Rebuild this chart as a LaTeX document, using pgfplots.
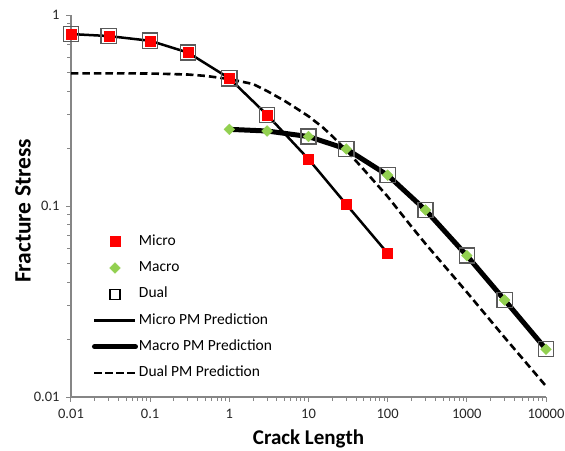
\documentclass[border=0pt]{standalone}
\usepackage{pgfplots}
\pgfplotsset{compat=1.18}
\usepackage{fontspec}
\setmainfont{Carlito}
\definecolor{mred}{HTML}{FF0000}
\definecolor{mgreen}{HTML}{92D050}
\definecolor{axgray}{HTML}{868686}
\definecolor{boxgray}{HTML}{5A5A5A}

\begin{document}
\begin{tikzpicture}
\begin{loglogaxis}[
  scale only axis, width=475bp, height=382bp,
  xmin=0.01, xmax=10000, ymin=0.01, ymax=1,
  axis x line*=bottom, axis y line*=left,
  axis line style={axgray, line width=1.3bp, -},
  tick style={axgray, line width=1bp},
  tick align=outside,
  major tick length=5bp, minor tick length=4bp,
  xtick={0.01,0.1,1,10,100,1000,10000},
  xticklabels={0.01,0.1,1,10,100,1000,10000},
  minor xtick={0.02,0.03,0.04,0.05,0.06,0.07,0.08,0.09,
    0.2,0.3,0.4,0.5,0.6,0.7,0.8,0.9,
    2,3,4,5,6,7,8,9,
    20,30,40,50,60,70,80,90,
    200,300,400,500,600,700,800,900,
    2000,3000,4000,5000,6000,7000,8000,9000},
  ytick={0.01,0.1,1},
  yticklabels={0.01,0.1,1},
  minor ytick={0.02,0.03,0.04,0.05,0.06,0.07,0.08,0.09,
    0.2,0.3,0.4,0.5,0.6,0.7,0.8,0.9},
  ticklabel style={font=\fontsize{14.5bp}{17bp}\selectfont, text=black!85},
  xticklabel style={yshift=-4bp},
  yticklabel style={xshift=-3bp},
  xlabel={Crack Length}, ylabel={Fracture Stress},
  xlabel style={font=\fontsize{21bp}{25bp}\selectfont\bfseries, at={(axis description cs:0.5,-0.125)}, anchor=base},
  ylabel style={font=\fontsize{23.5bp}{28bp}\selectfont\bfseries, at={(axis description cs:-0.101,0.487)}, anchor=center},
  legend cell align=left,
  legend image code/.code={%
    \path[draw=none, fill=none] (0bp,-1bp) rectangle (41bp,1bp);
    \draw[mark repeat=2,mark phase=2,#1] plot coordinates {(0bp,0bp) (20.5bp,0bp) (41bp,0bp)};},
  legend style={draw=none, fill=none, inner sep=0pt, outer sep=0pt,
    at={(0.0442,0.4236)}, anchor=north west,
    row sep=13.3bp, column sep=1bp,
    font=\fontsize{15.5bp}{18bp}\selectfont,
    nodes={inner sep=0pt, text height=10bp, text depth=3bp}},
]
% legend entries
\addlegendimage{draw=none, only marks, mark=square*, mark size=5bp, mark options={draw=mred, fill=mred, line width=0.4bp}}
\addlegendentry{Micro}
\addlegendimage{draw=none, only marks, mark=square*, mark size=3.8bp, mark options={draw=mgreen, fill=mgreen, rotate=45, line width=0.4bp}}
\addlegendentry{Macro}
\addlegendimage{draw=none, only marks, mark=square, mark size=5bp, mark options={draw=black, fill=none, line width=1.3bp}}
\addlegendentry{Dual}
\addlegendimage{black, line width=2.6bp}
\addlegendentry{Micro PM Prediction}
\addlegendimage{black, line width=5bp, line cap=round}
\addlegendentry{Macro PM Prediction}
\addlegendimage{black, line width=2.6bp, dash pattern=on 7.5bp off 3.5bp}
\addlegendentry{Dual PM Prediction}

% Dual PM prediction (dashed)
\addplot[forget plot, black, line width=2.6bp, dash pattern=on 7.5bp off 4bp] coordinates {
 (0.01,0.495) (0.03,0.495) (0.1,0.494) (0.3,0.488) (0.5,0.480) (1,0.462)
 (2,0.435) (3,0.40) (5,0.355) (7,0.325) (10,0.295) (15,0.259) (20,0.232)
 (30,0.196) (50,0.155) (100,0.112) (200,0.078) (300,0.0635) (1000,0.0354)
 (3000,0.0205) (10000,0.0114)};
% Macro PM prediction (thick)
\addplot[forget plot, black, line width=5bp, line cap=round, line join=round] coordinates {
 (1,0.252) (3,0.247) (10,0.231) (30,0.199) (100,0.145) (300,0.0953)
 (1000,0.055) (3000,0.0322) (10000,0.0178)};
% Micro PM prediction (thin)
\addplot[forget plot, black, line width=2.5bp, line join=round] coordinates {
 (0.01,0.795) (0.03,0.776) (0.1,0.733) (0.3,0.636) (1,0.466) (3,0.30)
 (10,0.176) (30,0.102) (100,0.0565)};
% Dual boxes
\addplot[forget plot, only marks, mark=square, mark size=7.6bp, mark options={draw=boxgray, line width=1.4bp}] coordinates {
 (0.01,0.795) (0.03,0.776) (0.1,0.733) (0.3,0.636) (1,0.466) (3,0.30)
 (10,0.231) (30,0.199) (100,0.145) (300,0.0953)
 (1000,0.055) (3000,0.0322) (10000,0.0178)};
% Micro
\addplot[forget plot, only marks, mark=square*, mark size=5bp, mark options={draw=mred, fill=mred, line width=0.4bp}] coordinates {
 (0.01,0.795) (0.03,0.776) (0.1,0.733) (0.3,0.636) (1,0.466) (3,0.30)
 (10,0.176) (30,0.102) (100,0.0565)};
% Macro
\addplot[forget plot, only marks, mark=square*, mark size=3.8bp, mark options={draw=mgreen, fill=mgreen, rotate=45, line width=0.4bp}] coordinates {
 (1,0.252) (3,0.247) (10,0.231) (30,0.199) (100,0.145) (300,0.0953)
 (1000,0.055) (3000,0.0322) (10000,0.0178)};
\end{loglogaxis}
\pgfresetboundingbox
\path[use as bounding box] ([xshift=-71bp,yshift=-54bp]current axis.south west) rectangle ([xshift=19bp,yshift=15bp]current axis.north east);
\end{tikzpicture}
\end{document}
